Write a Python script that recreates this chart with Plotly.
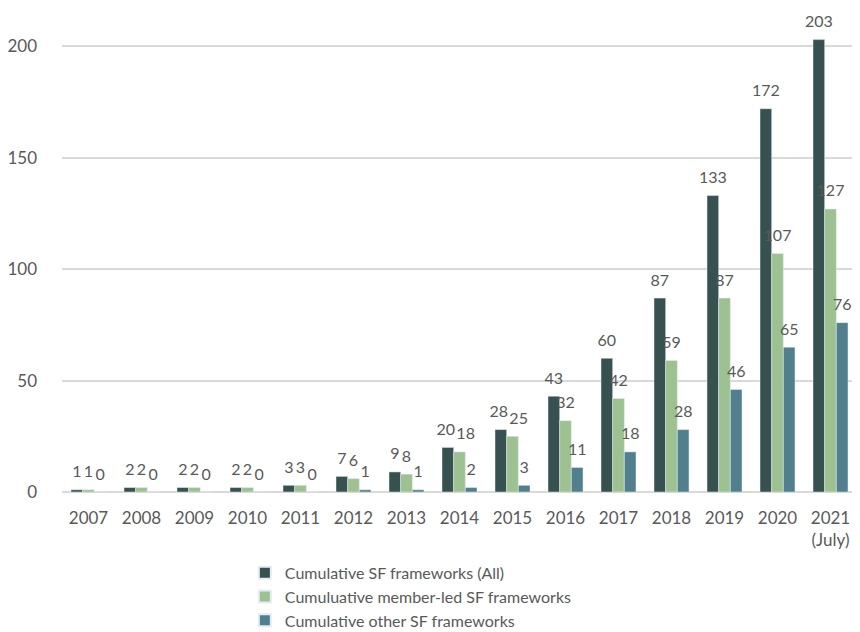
import plotly.graph_objects as go

years = ["2007", "2008", "2009", "2010", "2011", "2012", "2013", "2014",
         "2015", "2016", "2017", "2018", "2019", "2020", "2021<br>(July)"]
all_sf = [1, 2, 2, 2, 3, 7, 9, 20, 28, 43, 60, 87, 133, 172, 203]
member_led = [1, 2, 2, 2, 3, 6, 8, 18, 25, 32, 42, 59, 87, 107, 127]
other_sf = [0, 0, 0, 0, 0, 1, 1, 2, 3, 11, 18, 28, 46, 65, 76]

names = ["Cumulative SF frameworks (All)",
         "Cumuluative member-led SF frameworks",
         "Cumulative other SF frameworks"]
colors = ["#375050", "#9dc191", "#527f8e"]
groups = ["a", "b", "c"]

# small padding on labels where neighbouring labels would collide
crowded = {"2014", "2015"}
NB = "\u00a0"
txt_all = [f"{v}{NB}" if y in crowded else str(v) for y, v in zip(years, all_sf)]
txt_member = [f"{NB * 3}{v}" if y in crowded else str(v) for y, v in zip(years, member_led)]
txt_other = [str(v) for v in other_sf]

fig = go.Figure()
for vals, name, col, g in zip([all_sf, member_led, other_sf], names, colors, groups):
    fig.add_trace(go.Bar(
        x=years, y=vals, name=name, marker_color=col,
        offsetgroup=g, alignmentgroup="main",
    ))
for vals, g, txt in zip([all_sf, member_led, other_sf], groups,
                        [txt_all, txt_member, txt_other]):
    fig.add_trace(go.Scatter(
        x=years, y=vals, mode="markers+text", text=txt,
        textposition="top center", offsetgroup=g, alignmentgroup="main",
        marker=dict(size=12, opacity=0), cliponaxis=False,
        textfont=dict(size=16, color="#595959", family="Lato"),
        showlegend=False, hoverinfo="skip",
    ))

fig.update_layout(
    width=852, height=624,
    margin=dict(l=54, r=3, t=16, b=140, autoexpand=False),
    paper_bgcolor="white", plot_bgcolor="white",
    barmode="group", bargap=0.34, bargroupgap=0,
    scattermode="group", scattergap=0.34,
    font=dict(family="Lato", color="#595959", size=17),
    showlegend=True,
    legend=dict(orientation="v", xref="container", yref="container",
                x=0.278, xanchor="left", y=0.122, yanchor="top",
                font=dict(size=16, color="#595959"), tracegroupgap=0,
                itemsizing="constant"),
    yaxis=dict(range=[0, 210], tickvals=[0, 50, 100, 150, 200],
               showgrid=True, gridcolor="#d9d9d9", gridwidth=1.5,
               zeroline=True, zerolinecolor="#d9d9d9", zerolinewidth=1.5,
               tickfont=dict(size=17, color="#595959"), ticks="",
               ticklabelstandoff=24),
    xaxis=dict(tickfont=dict(size=17, color="#595959"), ticks="",
               showline=False, ticklabelstandoff=14),
)

fig.write_html("out.html")
